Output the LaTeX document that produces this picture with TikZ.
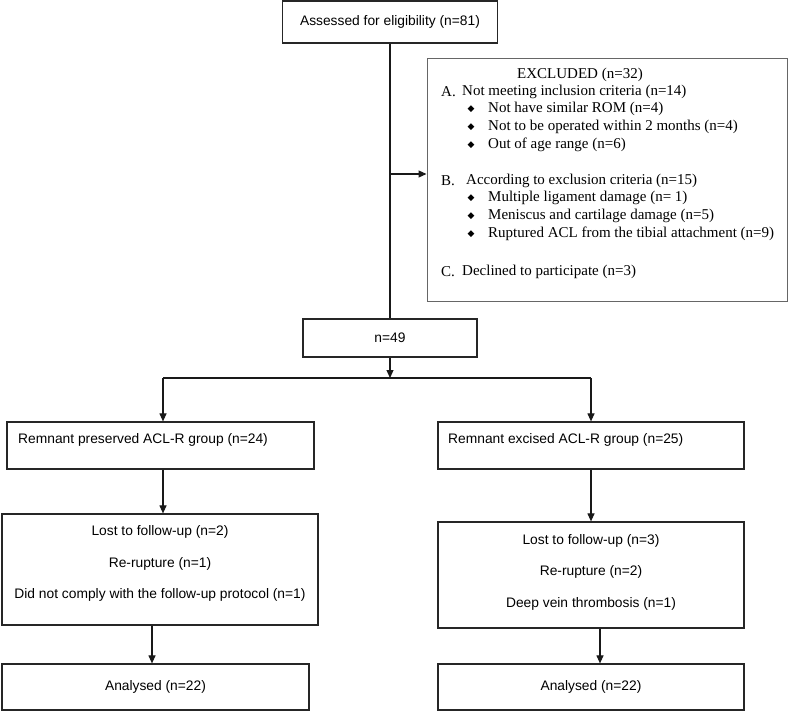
\documentclass[tikz,border=0pt]{standalone}
\usepackage{fontspec}
\setmainfont{Liberation Serif}
\setsansfont{Liberation Sans}
\newfontfamily\dejavu{DejaVu Sans}
\usetikzlibrary{arrows.meta}

\begin{document}
\begin{tikzpicture}[x=1pt,y=1pt,
  box/.style={draw=black!85, line width=1.2pt, inner sep=0pt, font=\sffamily\fontsize{13.8}{16}\selectfont},
  exbox/.style={draw=black!60, line width=1pt, inner sep=0pt},
  stxt/.style={inner sep=0pt, font=\sffamily\fontsize{13.8}{16}\selectfont},
  etxt/.style={inner sep=0pt, anchor=west, font=\fontsize{15}{17}\selectfont},
  bul/.style={inner sep=0pt, font=\dejavu\fontsize{9}{10}\selectfont},
  conn/.style={draw=black!90, line width=1.1pt},
  arr/.style={conn, -{Triangle[length=8pt,width=7pt]}}
]
\useasboundingbox (0,0) rectangle (789,-713);

% boxes
\node[box, minimum width=215, minimum height=42] (top) at (390,-22) {Assessed for eligibility (n=81)};
\node[exbox, minimum width=360, minimum height=243] (excl) at (607,-179.5) {};
\node[box, minimum width=174, minimum height=38] (n49) at (390,-338) {n=49};
\node[box, minimum width=307, minimum height=47] (lg) at (160.5,-445.5) {};
\node[box, minimum width=306, minimum height=47] (rg) at (591,-445.5) {};
\node[box, minimum width=316, minimum height=111] (ll) at (160,-569.5) {};
\node[box, minimum width=306, minimum height=106] (rl) at (591,-575) {};
\node[box, minimum width=307, minimum height=46] (la) at (155.5,-687) {Analysed (n=22)};
\node[box, minimum width=306, minimum height=46] (ra) at (591,-687) {Analysed (n=22)};

% group texts
\node[stxt, anchor=west] (lgt) at (18,-440) {Remnant preserved ACL-R group (n=24)};
\node[stxt, anchor=west] (rgt) at (448,-440) {Remnant excised ACL-R group (n=25)};

% lost texts
\node[stxt] (l1) at (160,-532) {Lost to follow-up (n=2)};
\node[stxt] (l2) at (160,-564) {Re-rupture (n=1)};
\node[stxt] (l3) at (160,-595) {Did not comply with the follow-up protocol (n=1)};
\node[stxt] (r1) at (591,-541) {Lost to follow-up (n=3)};
\node[stxt] (r2) at (591,-572) {Re-rupture (n=2)};
\node[stxt] (r3) at (591,-604) {Deep vein thrombosis (n=1)};

% excluded texts
\node[etxt, anchor=center] (eh) at (580,-75) {EXCLUDED (n=32)};
\node[etxt] (ea) at (441,-92) {A.};
\node[etxt] (eat) at (462,-92) {Not meeting inclusion criteria (n=14)};
\node[bul] (ba1) at (471,-109) {◆};
\node[etxt] (ea1) at (488,-109) {Not have similar ROM (n=4)};
\node[bul] (ba2) at (471,-127) {◆};
\node[etxt] (ea2) at (488,-127) {Not to be operated within 2 months (n=4)};
\node[bul] (ba3) at (471,-145) {◆};
\node[etxt] (ea3) at (488,-145) {Out of age range (n=6)};
\node[etxt] (eb) at (441,-181) {B.};
\node[etxt] (ebt) at (466,-181) {According to exclusion criteria (n=15)};
\node[bul] (bb1) at (471,-198) {◆};
\node[etxt] (eb1) at (488,-198) {Multiple ligament damage (n= 1)};
\node[bul] (bb2) at (471,-216) {◆};
\node[etxt] (eb2) at (488,-216) {Meniscus and cartilage damage (n=5)};
\node[bul] (bb3) at (471,-234) {◆};
\node[etxt] (eb3) at (488,-234) {Ruptured ACL from the tibial attachment (n=9)};
\node[etxt] (ec) at (441,-272) {C.};
\node[etxt] (ect) at (462,-272) {Declined to participate (n=3)};

% connectors
\coordinate (ej) at (390,-174);
\coordinate (br) at (390,-378);
\coordinate (lbr) at (163,-378);
\coordinate (rbr) at (591,-378);
\coordinate (lx) at (152,0);
\coordinate (rx) at (600,0);

\draw[conn] (top.south) -- (n49.north);
\draw[arr] (ej) -- (ej -| excl.west);
\draw[arr] (n49.south) -- (br);
\draw[conn] (lbr) -- (rbr);
\draw[arr] (lbr) -- (lbr |- lg.north);
\draw[arr] (rbr) -- (rg.north);
\draw[arr] (lbr |- lg.south) -- (lbr |- ll.north);
\draw[arr] (rg.south) -- (rl.north);
\draw[arr] (lx |- ll.south) -- (lx |- la.north);
\draw[arr] (rx |- rl.south) -- (rx |- ra.north);
\end{tikzpicture}
\end{document}
